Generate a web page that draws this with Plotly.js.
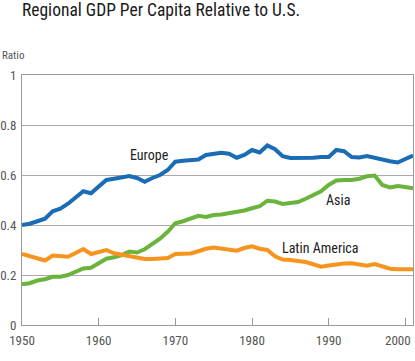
<!DOCTYPE html>
<html>
<head>
<meta charset="utf-8">
<script src="https://cdn.plot.ly/plotly-3.0.1.min.js"></script>
<style>html,body{margin:0;padding:0;background:#fff;}#chart{width:415px;height:361px;}</style>
</head>
<body>
<div id="chart"></div>
<script>
const years = [];
for (let y = 1950; y <= 2001; y++) years.push(y);

const europe = [0.400,0.405,0.415,0.425,0.455,0.465,0.485,0.510,0.535,0.527,
  0.555,0.580,0.585,0.590,0.596,0.588,0.573,0.588,0.600,0.620,
  0.653,0.657,0.658,0.662,0.680,0.685,0.689,0.685,0.669,0.680,
  0.700,0.690,0.718,0.703,0.675,0.668,0.667,0.667,0.669,0.672,
  0.672,0.700,0.695,0.672,0.670,0.676,0.668,0.660,0.655,0.650,
  0.663,0.678];
const asia = [0.163,0.167,0.178,0.183,0.193,0.193,0.200,0.212,0.226,0.229,
  0.245,0.265,0.271,0.280,0.294,0.290,0.303,0.325,0.345,0.373,
  0.407,0.415,0.425,0.437,0.432,0.440,0.442,0.446,0.450,0.458,
  0.467,0.475,0.497,0.494,0.484,0.487,0.492,0.505,0.520,0.535,
  0.560,0.578,0.580,0.580,0.585,0.595,0.598,0.560,0.550,0.556,
  0.552,0.547];
const latam = [0.284,0.276,0.268,0.258,0.278,0.276,0.273,0.288,0.304,0.284,
  0.292,0.300,0.287,0.281,0.276,0.270,0.264,0.264,0.264,0.268,
  0.284,0.287,0.286,0.295,0.305,0.310,0.305,0.302,0.297,0.308,
  0.315,0.305,0.300,0.275,0.262,0.260,0.258,0.252,0.243,0.233,
  0.238,0.244,0.246,0.247,0.243,0.237,0.244,0.236,0.225,0.223,
  0.223,0.223];

const seriesNames = ["Europe", "Asia", "Latin America"];
const xTicks = [1950, 1960, 1970, 1980, 1990, 2000];
const yTicks = [0, 0.2, 0.4, 0.6, 0.8, 1];
const yTickText = ["0", "0.2", "0.4", "0.6", "0.8", "1"];

const FONT = '"Liberation Sans Narrow", "Roboto Condensed", "DejaVu Sans Condensed", "Liberation Sans", Arial, sans-serif';

const colors = ["#1a6cb5", "#6ab43e", "#f7941d"];
const data = [europe, asia, latam].map((v, i) => ({
  x: years, y: v, type: "scatter", mode: "lines", name: seriesNames[i],
  line: {color: colors[i], width: 4}, hoverinfo: "skip"
}));

// last tick label sits flush with the right edge, drawn as an annotation so it is not clipped
const lastTick = xTicks[xTicks.length - 1];
const xTickText = xTicks.map((t, i) => i === xTicks.length - 1 ? "" : String(t));

const layout = {
  width: 415, height: 361,
  margin: {l: 22, r: 2, t: 75, b: 36},
  paper_bgcolor: "#fff", plot_bgcolor: "#fff",
  showlegend: false,
  font: {family: FONT, color: "#555", size: 13},
  title: {text: "Regional GDP Per Capita Relative to U.S.", x: 0, xref: "paper", xanchor: "left",
    y: 1, yref: "container", yanchor: "top", pad: {t: 4, l: 0},
    font: {family: FONT, size: 17.5, color: "#1a1a1a"}},
  xaxis: {range: [1950, 2001], tickvals: xTicks, ticktext: xTickText,
    showgrid: false, zeroline: false, showline: true, linecolor: "#999", linewidth: 1, mirror: true,
    ticks: "inside", ticklen: 7, tickcolor: "#999", ticklabelstandoff: 3,
    tickfont: {family: FONT, size: 13, color: "#555"}},
  yaxis: {range: [0, 1], tickvals: yTicks, ticktext: yTickText,
    showgrid: true, gridcolor: "#aaa", gridwidth: 1, zeroline: false,
    showline: true, linecolor: "#999", linewidth: 1, mirror: true, ticks: "",
    ticklabelstandoff: 2,
    tickfont: {family: FONT, size: 13, color: "#555"}},
  annotations: [
    {text: "Ratio", xref: "paper", yref: "paper", x: -22/391, y: 1 + 19/250, xanchor: "left", yanchor: "middle",
      showarrow: false, font: {family: FONT, size: 11, color: "#555"}},
    {text: String(lastTick), xref: "paper", yref: "paper", x: 1, y: -15/250, xanchor: "right", yanchor: "middle",
      showarrow: false, font: {family: FONT, size: 13, color: "#555"}},
    {text: seriesNames[0], x: 1966.6, y: 0.68, xref: "x", yref: "y", showarrow: false,
      font: {family: FONT, size: 14, color: "#222"}},
    {text: seriesNames[1], x: 1991.2, y: 0.50, xref: "x", yref: "y", showarrow: false,
      font: {family: FONT, size: 14, color: "#222"}},
    {text: seriesNames[2], x: 1988.9, y: 0.308, xref: "x", yref: "y", showarrow: false,
      font: {family: FONT, size: 14, color: "#222"}}
  ]
};

Plotly.newPlot("chart", data, layout, {staticPlot: true, displayModeBar: false});
</script>
</body>
</html>
